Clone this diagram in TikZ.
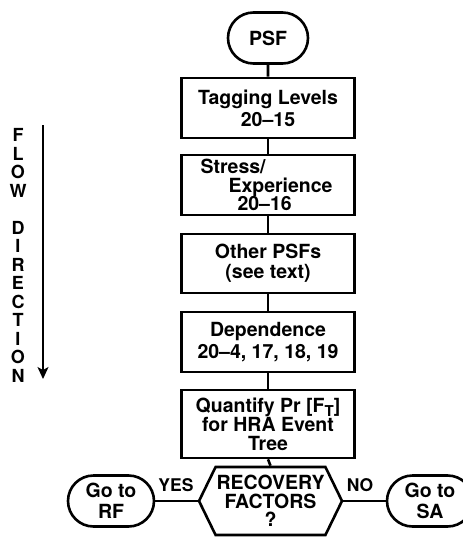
\documentclass[tikz,border=0pt]{standalone}
\usepackage{fontspec}
\setmainfont{TeX Gyre Heros}
\usetikzlibrary{shapes.symbols,shapes.misc,arrows.meta}

\begin{document}
\begin{tikzpicture}[x=1pt,y=-1pt,line width=2.6pt,
  every node/.style={font=\fontsize{19.5}{22}\selectfont\bfseries},
  stepbox/.style={draw,rectangle,minimum width=173pt,inner sep=0pt,align=center},
  terminal/.style={draw,rounded rectangle,minimum height=51pt,inner sep=0pt,align=center,
    font=\fontsize{19.5}{21}\selectfont\bfseries},
  choice/.style={draw,signal,signal to=west and east,signal pointer angle=128,
    minimum width=143pt,minimum height=68pt,inner sep=0pt,align=center,
    font=\fontsize{19.5}{18.5}\selectfont\bfseries},
  branch/.style={font=\fontsize{17.5}{18}\selectfont\bfseries},
  flowletter/.style={font=\fontsize{18}{18}\selectfont\bfseries,inner sep=0pt},
]
\useasboundingbox (0,0) rectangle (463,538);

% main chain of steps
\node[terminal,minimum width=80pt] (psf) at (268,38) {PSF};
\node[stepbox,minimum height=60pt] (tag) at (268,108) {Tagging Levels\\20--15};
\node[stepbox,minimum height=60pt,text width=173pt,align=left,
  font=\fontsize{19.5}{18.5}\selectfont\bfseries] (stress) at (268,185)
  {\hspace*{19pt}Stress/\\\hspace*{47pt}Experience\\\hspace*{56pt}20--16};
\node[stepbox,minimum height=59pt,font=\fontsize{19.5}{20}\selectfont\bfseries] (other) at (268,263.5) {Other PSFs\\(see text)};
\node[stepbox,minimum height=60pt] (dep) at (268,342) {Dependence\\20--4, 17, 18, 19};
\node[stepbox,minimum height=68pt,font=\fontsize{19.5}{19}\selectfont\bfseries] (quant) at (268,424)
  {Quantify Pr [F\raisebox{-4.5pt}{\fontsize{15}{15}\selectfont T}]\\for HRA Event\\Tree};

% decision and its outcomes
\node[choice] (rec) at (270.5,501) {RECOVERY\\FACTORS\\?};
\node[terminal,minimum width=86pt] (rf) at (111,501) {Go to\\RF};
\node[terminal,minimum width=86pt] (sa) at (430,501) {Go to\\SA};
\node[branch] (yes) at (176,485) {YES};
\node[branch] (no) at (360,485) {NO};

\draw (psf) -- (tag);
\draw (tag) -- (stress);
\draw (stress) -- (other);
\draw (other) -- (dep);
\draw (dep) -- (quant);
\draw (quant.south) -- (rec.north);
\draw (rec.west) -- (rf.east);
\draw (rec.east) -- (sa.west);

% flow direction legend
\foreach \ch/\k in {F/0,L/1,O/2,W/3,D/5,I/6,R/7,E/8,C/9,T/10,I/11,O/12,N/13}
  \node[flowletter] (flow\k) at (18,135+18.5*\k) {\ch};
\coordinate (flowtop) at (43,125);
\coordinate (flowtip) at (43,379);
\draw[line width=1.3pt,-{Stealth[length=12pt,width=11pt,inset=3pt]}] (flowtop) -- (flowtip);
\end{tikzpicture}
\end{document}
